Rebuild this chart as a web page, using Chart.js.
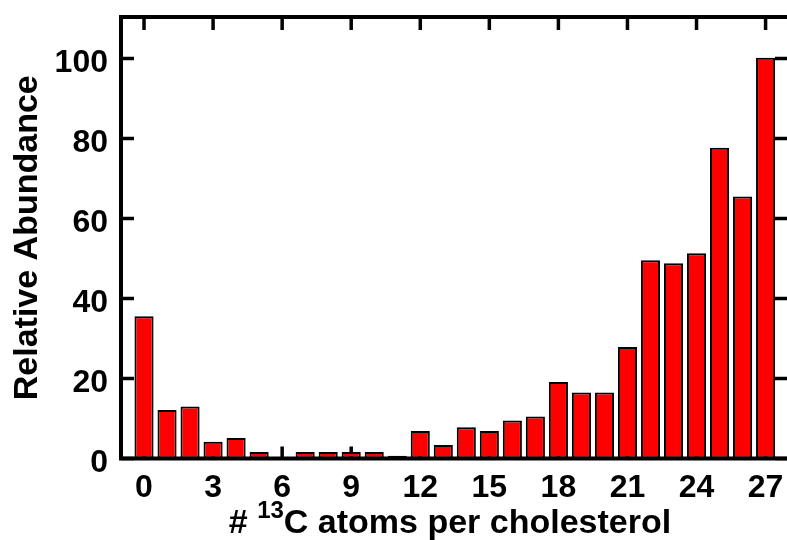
<!DOCTYPE html>
<html>
<head>
<meta charset="utf-8">
<script src="https://cdn.jsdelivr.net/npm/chart.js@4"></script>
<style>
  html, body { margin: 0; padding: 0; background: #fff; }
  #wrap { width: 787px; height: 540px; }
</style>
</head>
<body>
<div id="wrap"><canvas id="chart" width="787" height="540"></canvas></div>
<script>
// number of 13C atoms per cholesterol
const atoms = [0, 1, 2, 3, 4, 5, 6, 7, 8, 9, 10, 11, 12, 13, 14, 15, 16, 17, 18, 19, 20, 21, 22, 23, 24, 25, 26, 27];
// relative abundance (%)
const abundance = [35.6, 12.1, 13.0, 4.2, 5.1, 1.6, 0, 1.6, 1.6, 1.6, 1.6, 0.7, 6.9, 3.4, 7.8, 6.9, 9.5, 10.5,
                   19.1, 16.5, 16.5, 27.9, 49.6, 48.8, 51.3, 77.7, 65.5, 100.2];
const xTicks = [0, 3, 6, 9, 12, 15, 18, 21, 24, 27];
const yTicks = [0, 20, 40, 60, 80, 100];

const FONT = '"Liberation Sans", Arial, Helvetica, sans-serif';

// frame with inward ticks, like the original plot
const framePlugin = {
  id: 'frame',
  beforeDatasetsDraw(chart) {
    const { ctx, chartArea: a, scales: { x, y } } = chart;
    ctx.save();
    ctx.strokeStyle = '#000';
    ctx.lineWidth = 3.5;
    ctx.beginPath();
    xTicks.forEach(v => {
      const px = x.getPixelForValue(v);
      ctx.moveTo(px, a.top); ctx.lineTo(px, a.top + 13);
      ctx.moveTo(px, a.bottom); ctx.lineTo(px, a.bottom - 12);
    });
    yTicks.forEach(v => {
      const py = y.getPixelForValue(v);
      ctx.moveTo(a.left, py); ctx.lineTo(a.left + 13, py);
      ctx.moveTo(a.right, py); ctx.lineTo(a.right - 12, py);
    });
    ctx.stroke();
    ctx.restore();
  },
  afterDatasetsDraw(chart) {
    const { ctx, chartArea: a, scales: { x, y } } = chart;
    ctx.save();
    ctx.strokeStyle = '#000';
    ctx.lineWidth = 4;
    ctx.lineCap = 'square';
    ctx.beginPath();
    ctx.moveTo(a.left, a.top); ctx.lineTo(a.right + 2, a.top);
    ctx.moveTo(a.left, a.top); ctx.lineTo(a.left, a.bottom);
    ctx.lineTo(a.right + 2, a.bottom);
    ctx.stroke();

    // tick labels
    ctx.fillStyle = '#000';
    ctx.font = 'bold 32px ' + FONT;
    ctx.textBaseline = 'alphabetic';
    ctx.textAlign = 'center';
    xTicks.forEach(v => ctx.fillText(String(v), x.getPixelForValue(v), a.bottom + 38.5));
    ctx.textAlign = 'right';
    yTicks.forEach(v => ctx.fillText(String(v), a.left - 13, y.getPixelForValue(v) + 13.5));

    // x axis title with superscript
    const big = 'bold 34px ' + FONT, small = 'bold 24px ' + FONT;
    const parts = [['# ', big, 0], ['13', small, -15], ['C atoms per cholesterol', big, 0]];
    let total = 0;
    parts.forEach(p => { ctx.font = p[1]; total += ctx.measureText(p[0]).width; });
    let tx = (a.left + a.right) / 2 - 4 - total / 2;
    const base = 533;
    ctx.textAlign = 'left';
    parts.forEach(p => {
      ctx.font = p[1];
      ctx.fillText(p[0], tx, base + p[2]);
      tx += ctx.measureText(p[0]).width;
    });
    ctx.restore();
  }
};

new Chart(document.getElementById('chart'), {
  type: 'bar',
  data: {
    datasets: [{
      data: atoms.map((a, i) => ({ x: a, y: abundance[i] })),
      backgroundColor: '#ff0000',
      borderColor: '#000',
      borderWidth: 2,
      borderSkipped: false,
      barPercentage: 0.83,
      categoryPercentage: 1
    }]
  },
  options: {
    responsive: false,
    animation: false,
    events: [],
    layout: { padding: { top: 17, right: 0, left: 0, bottom: 0 } },
    plugins: { legend: { display: false }, tooltip: { enabled: false } },
    scales: {
      x: {
        type: 'linear',
        min: -1,
        max: 27.93,
        offset: false,
        grid: { display: false },
        border: { display: false },
        ticks: { display: false },
        afterFit(s) { s.height = 81.5; },
        afterBuildTicks(s) { s.ticks = xTicks.map(v => ({ value: v })); }
      },
      y: {
        min: 0,
        max: 110.4,
        grid: { display: false },
        border: { display: false },
        ticks: { display: false },
        afterFit(s) { s.width = 121; },
        afterBuildTicks(s) { s.ticks = yTicks.map(v => ({ value: v })); },
        title: {
          display: true,
          text: 'Relative Abundance',
          color: '#000',
          padding: { top: 7, bottom: 0 },
          font: { family: FONT, size: 34, weight: 'bold' }
        }
      }
    }
  },
  plugins: [framePlugin]
});
</script>
</body>
</html>
